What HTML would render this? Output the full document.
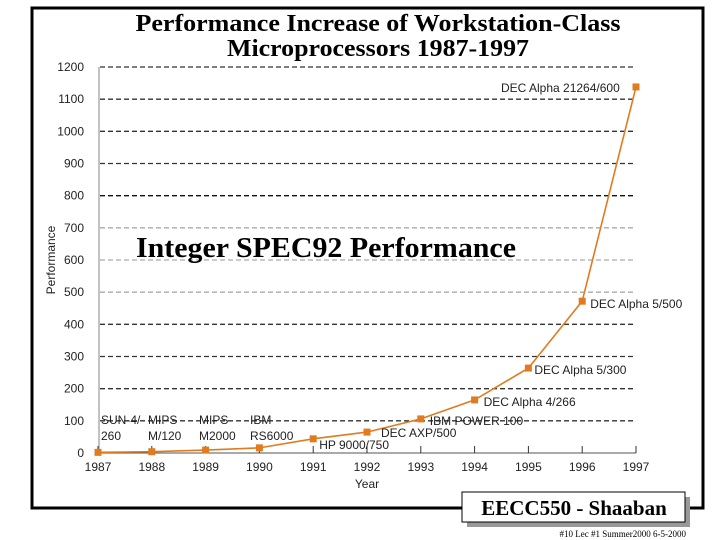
<!DOCTYPE html>
<html><head><meta charset="utf-8"><style>
html,body{margin:0;padding:0;background:#fff;width:720px;height:540px;overflow:hidden}
svg{display:block}
</style></head><body>
<svg width="720" height="540" viewBox="0 0 720 540" font-family="Liberation Sans, sans-serif">
<rect x="32" y="8" width="671" height="500" fill="none" stroke="#000" stroke-width="3"/>
<text x="378" y="31" text-anchor="middle" font-family="Liberation Serif, serif" font-weight="bold" font-size="24" textLength="485" lengthAdjust="spacingAndGlyphs">Performance Increase of Workstation-Class</text>
<text x="378" y="56" text-anchor="middle" font-family="Liberation Serif, serif" font-weight="bold" font-size="24" textLength="302" lengthAdjust="spacingAndGlyphs">Microprocessors 1987-1997</text>
<g id="grid"></g>
<g id="axes"></g>
<text x="136" y="257" font-family="Liberation Serif, serif" font-weight="bold" font-size="28" textLength="380" lengthAdjust="spacingAndGlyphs">Integer SPEC92 Performance</text>
<text transform="translate(55,260) rotate(-90)" text-anchor="middle" font-size="12" fill="#222">Performance</text>
<text x="367" y="488" text-anchor="middle" font-size="12" fill="#222">Year</text>
<g id="series"></g>
<g id="labels"></g>
<rect x="467" y="497" width="223" height="30" fill="#999"/>
<rect x="462" y="492" width="223" height="30" fill="#fff" stroke="#000" stroke-width="1"/>
<text x="574" y="515" text-anchor="middle" font-family="Liberation Serif, serif" font-weight="bold" font-size="21">EECC550 - Shaaban</text>
<text x="686" y="537" text-anchor="end" font-family="Liberation Serif, serif" font-size="9">#10  Lec #1  Summer2000  6-5-2000</text>
</svg>
<script>
const years = [1987,1988,1989,1990,1991,1992,1993,1994,1995,1996,1997];
const perf = [2,4,9,16,44,65,106,165,264,472,1138];
const yTicks = [0,100,200,300,400,500,600,700,800,900,1000,1100,1200];
const gridColors = ['#333','#333','#333','#333','#aaa','#aaa','#aaa','#111','#333','#333','#333','#333'];
const pointLabels = [
 {i:4,t:"HP 9000/750",dx:6,dy:10},
 {i:5,t:"DEC AXP/500",dx:14,dy:5},
 {i:6,t:"IBM POWER 100",dx:9,dy:6},
 {i:7,t:"DEC Alpha 4/266",dx:9,dy:6},
 {i:8,t:"DEC Alpha 5/300",dx:6,dy:6},
 {i:9,t:"DEC Alpha 5/500",dx:8,dy:7},
 {i:10,t:"DEC Alpha 21264/600",dx:-135,dy:5}
];
const NS="http://www.w3.org/2000/svg";
const x0=98,x1=636,y0=453,y1=67;
function xs(yr){return x0+(yr-years[0])*(x1-x0)/(years[years.length-1]-years[0]);}
function ys(v){return y0-(v/1200)*(y0-y1);}
function mk(tag,attrs,parent){const e=document.createElementNS(NS,tag);for(const k in attrs)e.setAttribute(k,attrs[k]);parent.appendChild(e);return e;}
const grid=document.getElementById('grid'),axes=document.getElementById('axes'),series=document.getElementById('series'),labels=document.getElementById('labels');
yTicks.forEach((v,k)=>{
 if(v>0){const l=mk('line',{x1:100,x2:636,y1:ys(v),y2:ys(v),stroke:gridColors[k-1],'stroke-width':1.3,'stroke-dasharray':'5,3'},grid);
 
 }
 const t=mk('text',{x:84,y:ys(v)+4,'text-anchor':'end','font-size':12,fill:'#222'},axes);t.textContent=v;
 
 
});
const ya=mk('line',{x1:99,x2:99,y1:y1,y2:y0,stroke:'#999','stroke-width':1.2},axes);


const xa=mk('line',{x1:x0,x2:x1,y1:y0,y2:y0,stroke:'#555','stroke-width':1},axes);


years.forEach(yr=>{
 const tk=mk('line',{x1:xs(yr),x2:xs(yr),y1:y0-7,y2:y0,stroke:'#333','stroke-width':1},axes);
 
 
 const t=mk('text',{x:xs(yr),y:y0+18,'text-anchor':'middle','font-size':12,fill:'#222'},axes);t.textContent=yr;
 
 
});
const pl=mk('polyline',{points:years.map((yr,i)=>xs(yr)+','+ys(perf[i])).join(' '),fill:'none',stroke:'#e07b20','stroke-width':1.6},series);


years.forEach((yr,i)=>{
 const r=mk('rect',{x:xs(yr)-3.5,y:ys(perf[i])-3.5,width:7,height:7,fill:'#e07b20'},series);
 
 
});
[["SUN-4/",101,424],["260",101,440],["MIPS",148,424],["M/120",148,440],["MIPS",199,424],["M2000",199,440],["IBM",250,424],["RS6000",250,440]].forEach(a=>{
 const t=mk('text',{x:a[1],y:a[2],'font-size':12,fill:'#222'},labels);t.textContent=a[0];
 
 
});
pointLabels.forEach(p=>{
 const t=mk('text',{x:xs(years[p.i])+p.dx,y:ys(perf[p.i])+p.dy,'font-size':12,fill:'#222'},labels);t.textContent=p.t;
 
 
});
</script>
</body></html>
